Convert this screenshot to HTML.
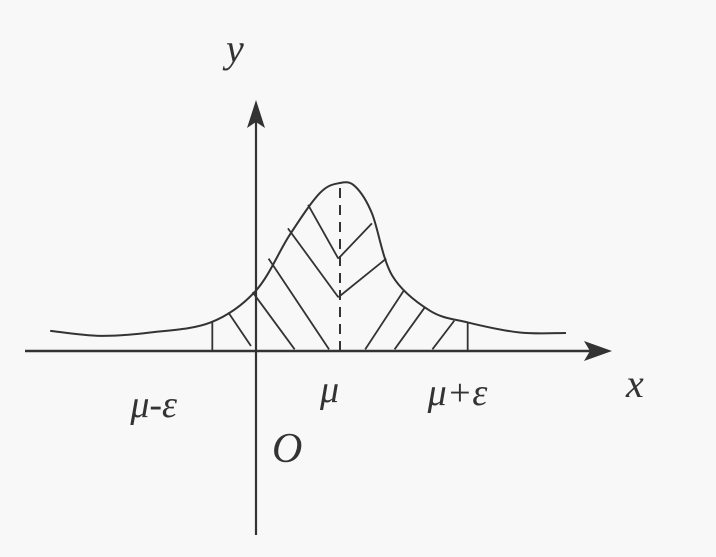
<!DOCTYPE html>
<html><head><meta charset="utf-8"><style>
html,body{margin:0;padding:0;background:#f8f8f8;}
svg{display:block;}
text{font-family:"Liberation Serif","DejaVu Serif","Times New Roman",serif;font-style:italic;fill:#333;}
</style></head><body>
<svg id="chart" width="716" height="557" viewBox="0 0 716 557"></svg>
<script>
// curve data (math units: mu = 1, peak height = 1)
const curveX = [-2.45,-1.86,-1.26,-0.54,0,0.4,0.76,1,1.18,1.38,1.62,2.07,2.52,3.14,3.69];
const curveY = [0.12,0.09,0.11,0.17,0.36,0.69,0.94,1.0,0.98,0.82,0.45,0.24,0.17,0.11,0.107];
const mu = 1;
const eps = 1.52;
// hatch segments [x1,y1,x2,y2] in math units
const hatchLeft = [[-0.33,0.23,-0.06,0.03],[-0.04,0.35,0.46,0.01],[0.15,0.55,0.87,0.01],[0.38,0.73,0.98,0.32],[0.62,0.87,0.98,0.55]];
const hatchV = [[0.98,0.32,1.55,0.55],[0.98,0.55,1.38,0.76]];
const hatchRight = [[1.3,0.01,1.76,0.36],[1.65,0.01,2.01,0.26],[2.1,0.01,2.36,0.18]];
const labels = ["μ-ε","μ","μ+ε"];

const ox=256, oy=351, ux=84, uy=168;
const sx=v=>ox+v*ux, sy=v=>oy-v*uy;
const svg=document.getElementById('chart');
const NS='http://www.w3.org/2000/svg';
function mk(t,a){const e=document.createElementNS(NS,t);for(const k in a)e.setAttribute(k,a[k]);svg.appendChild(e);return e;}
const stroke='#333';

let e=mk('line',{x1:25,y1:oy,x2:600,y2:oy,stroke:stroke,'stroke-width':2.5});


e=mk('polygon',{points:`${612},${oy} ${584},${oy-10} ${590},${oy} ${584},${oy+10}`,fill:stroke});


e=mk('line',{x1:ox,y1:112,x2:ox,y2:535,stroke:stroke,'stroke-width':2.2});


e=mk('polygon',{points:`${ox},100 ${ox-9},128 ${ox},122 ${ox+9},128`,fill:stroke});



const P=curveX.map((x,i)=>[sx(x),sy(curveY[i])]);
let d=`M${P[0][0]},${P[0][1]}`;
for(let i=0;i<P.length-1;i++){const p0=P[Math.max(0,i-1)],p1=P[i],p2=P[i+1],p3=P[Math.min(P.length-1,i+2)];
d+=` C${p1[0]+(p2[0]-p0[0])/6},${p1[1]+(p2[1]-p0[1])/6} ${p2[0]-(p3[0]-p1[0])/6},${p2[1]-(p3[1]-p1[1])/6} ${p2[0]},${p2[1]}`;}
e=mk('path',{d:d,fill:'none',stroke:stroke,'stroke-width':2});



[mu-eps,mu+eps].forEach((x,i)=>{
 e=mk('line',{x1:sx(x),y1:oy,x2:sx(x),y2:sy(0.17),stroke:stroke,'stroke-width':1.8});
 
 
});
e=mk('line',{x1:sx(mu),y1:oy,x2:sx(mu),y2:sy(1),stroke:stroke,'stroke-width':2,'stroke-dasharray':'10,7'});



hatchLeft.concat(hatchV,hatchRight).forEach(h=>{
 e=mk('line',{x1:sx(h[0]),y1:sy(h[1]),x2:sx(h[2]),y2:sy(h[3]),stroke:stroke,'stroke-width':1.8});
 
 
});

const lx=[mu-eps,mu,mu+eps], lxo=[-82,-20,-40], lyo=[417,402,405];
labels.forEach((t,i)=>{
 e=mk('text',{x:sx(lx[i])+lxo[i],y:lyo[i],'font-size':38});e.textContent=t;
 
 
});
e=mk('text',{x:626,y:397,'font-size':40});e.textContent='x';


e=mk('text',{x:226,y:62,'font-size':40});e.textContent='y';


e=mk('text',{x:272,y:462,'font-size':42});e.textContent='O';


</script>
</body></html>
